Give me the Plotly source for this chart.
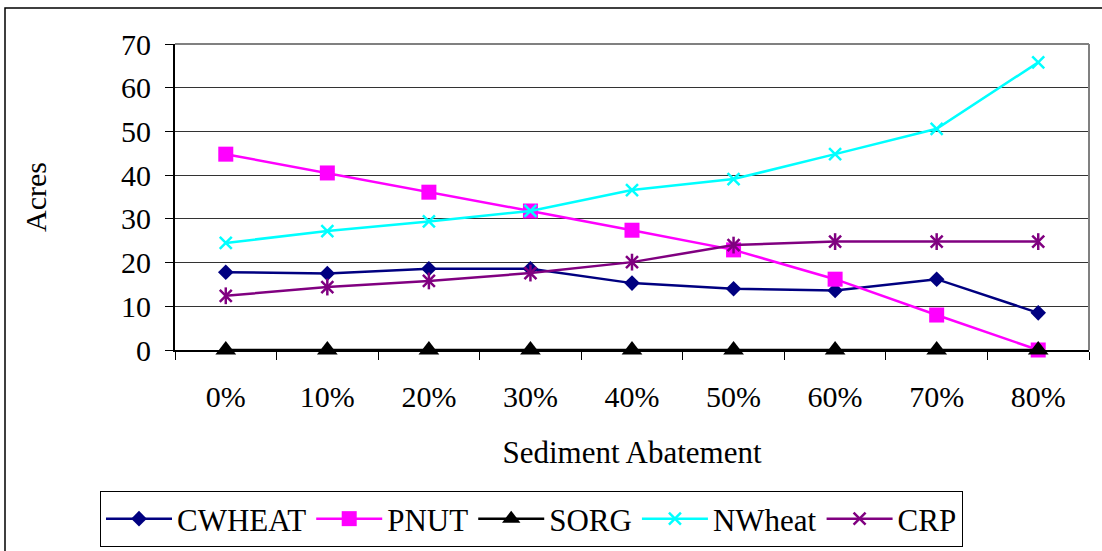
import plotly.graph_objects as go

# Sediment abatement levels and acreage by crop
abatement = ["0%", "10%", "20%", "30%", "40%", "50%", "60%", "70%", "80%"]
cwheat = [17.8, 17.5, 18.6, 18.6, 15.3, 14.0, 13.6, 16.2, 8.5]
pnut = [44.8, 40.5, 36.1, 31.8, 27.4, 22.9, 16.2, 8.0, 0.0]
sorg = [0, 0, 0, 0, 0, 0, 0, 0, 0]
nwheat = [24.5, 27.2, 29.4, 31.8, 36.6, 39.1, 44.8, 50.6, 65.8]
crp = [12.4, 14.4, 15.8, 17.6, 20.1, 24.0, 24.8, 24.8, 24.8]

FONT = "Liberation Serif, Times New Roman, serif"
NAVY, MAGENTA, BLACK, CYAN, PURPLE = "#000080", "#FF00FF", "#000000", "#00FFFF", "#800080"

fig = go.Figure()

fig.add_trace(go.Scatter(
    x=abatement, y=cwheat, name="CWHEAT", mode="lines+markers",
    line=dict(color=NAVY, width=2.5),
    marker=dict(symbol="diamond", size=12, color=NAVY),
    cliponaxis=False))
fig.add_trace(go.Scatter(
    x=abatement, y=pnut, name="PNUT", mode="lines+markers",
    line=dict(color=MAGENTA, width=2.5),
    marker=dict(symbol="square", size=15, color=MAGENTA),
    cliponaxis=False))
fig.add_trace(go.Scatter(
    x=abatement, y=sorg, name="SORG", mode="lines+markers",
    line=dict(color=BLACK, width=2.5),
    marker=dict(symbol="triangle-up", size=18, color=BLACK),
    cliponaxis=False))
fig.add_trace(go.Scatter(
    x=abatement, y=nwheat, name="NWheat", mode="lines+markers",
    line=dict(color=CYAN, width=2.5),
    marker=dict(symbol="x-thin-open", size=12, color=CYAN,
                line=dict(color=CYAN, width=2.5)),
    cliponaxis=False))
fig.add_trace(go.Scatter(
    x=abatement, y=crp, name="CRP", mode="lines+markers",
    line=dict(color=PURPLE, width=2.5),
    marker=dict(symbol="x-thin-open", size=12, color=PURPLE,
                line=dict(color=PURPLE, width=2.5)),
    cliponaxis=False))
# vertical stroke completing the star marker
fig.add_trace(go.Scatter(
    x=abatement, y=crp, name="CRP", mode="markers", showlegend=False,
    marker=dict(symbol="line-ns-open", size=12, color=PURPLE,
                line=dict(color=PURPLE, width=2.5)),
    cliponaxis=False, hoverinfo="skip"))

L, R, T, B = 175, 13, 44, 201
W, H = 1102, 551
pw, ph = W - L - R, H - T - B

def px_x(x):
    return (x - L) / pw

def px_y(y):
    return (H - B - y) / ph

shapes = [
    # outer chart frame
    dict(type="rect", xref="paper", yref="paper",
         x0=px_x(5), x1=px_x(1130), y0=px_y(8), y1=px_y(580),
         line=dict(color=BLACK, width=1.5), fillcolor="rgba(0,0,0,0)",
         layer="below"),
    # top and right border of plot area
    dict(type="line", xref="paper", yref="paper", x0=0, x1=1, y0=1, y1=1,
         line=dict(color="#808080", width=2)),
    dict(type="line", xref="paper", yref="paper", x0=1, x1=1, y0=0, y1=1,
         line=dict(color="#808080", width=2)),
]

fig.update_layout(
    width=W, height=H,
    margin=dict(l=L, r=R, t=T, b=B, pad=0, autoexpand=False),
    paper_bgcolor="white", plot_bgcolor="white",
    font=dict(family=FONT, color=BLACK, size=30),
    showlegend=True,
    legend=dict(
        orientation="h", x=px_x(100), y=px_y(491), xanchor="left", yanchor="top",
        bordercolor=BLACK, borderwidth=1, bgcolor="white",
        font=dict(family=FONT, size=31, color=BLACK),
        itemwidth=66, tracegroupgap=0),
    shapes=shapes,
    xaxis=dict(
        type="category", range=[-0.5, 8.5], automargin=False,
        showline=True, linecolor=BLACK, linewidth=2,
        ticks="outside", ticklen=8, tickcolor=BLACK, tickwidth=1,
        tickson="boundaries", showgrid=False, zeroline=False,
        tickfont=dict(size=30), ticklabelstandoff=19,
        title=dict(text="Sediment Abatement", font=dict(size=31), standoff=29)),
    yaxis=dict(
        range=[0, 70], dtick=10, tick0=0, automargin=False,
        showline=True, linecolor=BLACK, linewidth=2,
        ticks="outside", ticklen=8, tickcolor=BLACK, tickwidth=1,
        showgrid=True, gridcolor="#333333", gridwidth=1, zeroline=False,
        tickfont=dict(size=30), ticklabelstandoff=8,
        title=dict(text="Acres", font=dict(size=30), standoff=66)),
)

fig.write_html("out.html")
